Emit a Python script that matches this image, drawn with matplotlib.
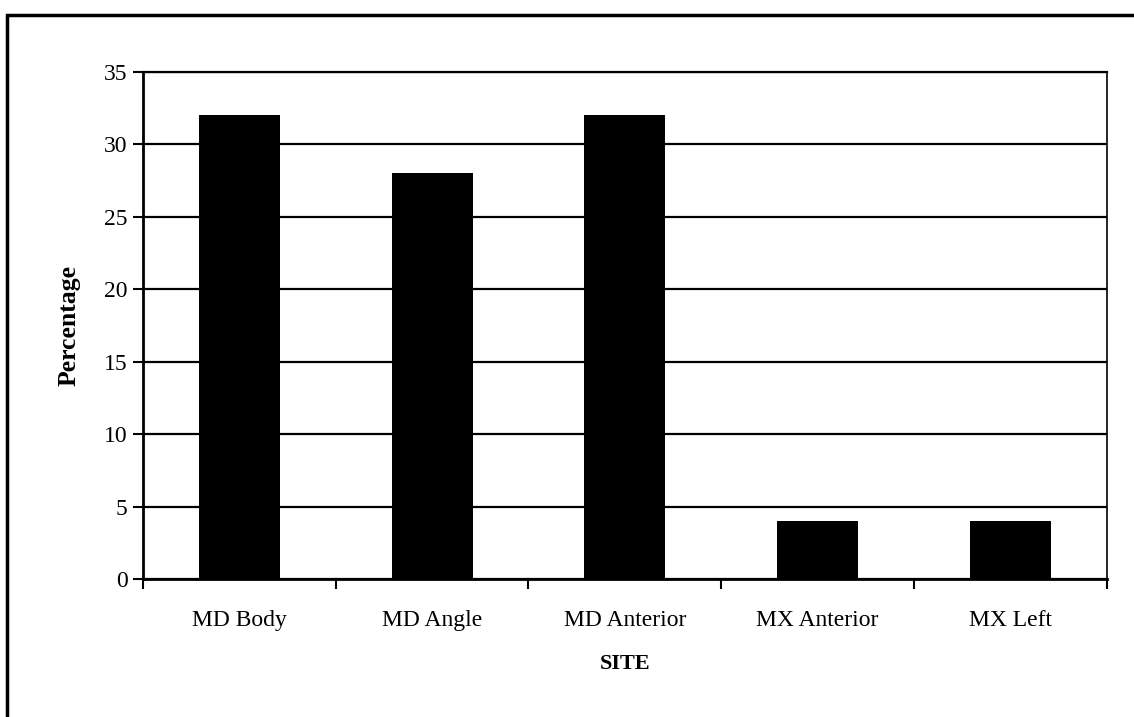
import matplotlib
matplotlib.use('Agg')
from matplotlib import pyplot
from matplotlib.patches import Rectangle

SITES = ['MD Body', 'MD Angle', 'MD Anterior', 'MX Anterior', 'MX Left']
PERCENTAGES = [32, 28, 32, 4, 4]
Y_TICKS = [0, 5, 10, 15, 20, 25, 30, 35]


def _plot_sites(sites, values):
    '''Bar chart of percentage by site.'''
    pyplot.rcParams['font.family'] = ['Liberation Serif', 'DejaVu Serif']

    fig = pyplot.figure(figsize=(11.34, 7.17), dpi=100)

    # Page frame around the chart.
    fig.patches.append(Rectangle((0.0065, -0.05), 1.1, 1.029,
                                 transform=fig.transFigure, fill=False,
                                 edgecolor='black', linewidth=2.5))

    ax = fig.add_axes([0.126, 0.1925, 0.85, 0.7071])
    xs = range(len(sites))
    ax.bar(xs, values, width=0.42, color='black', zorder=3)

    ax.set_xlim(-0.5, len(sites) - 0.5)
    ax.set_ylim(0, 35)
    ax.set_yticks(Y_TICKS)
    ax.set_yticklabels([str(t) for t in Y_TICKS], fontsize=17)
    ax.yaxis.grid(True, color='black', linewidth=1.6, zorder=1)
    ax.set_axisbelow(True)

    # Category labels centred, ticks on the boundaries.
    ax.set_xticks([x + 0.5 for x in range(-1, len(sites))])
    ax.set_xticklabels([])
    ax.set_xticks(list(xs), minor=True)
    ax.set_xticklabels(sites, minor=True, fontsize=17)
    ax.tick_params(axis='x', which='minor', length=0, pad=22)
    ax.tick_params(axis='x', which='major', direction='out', length=7,
                   width=1.5)
    ax.tick_params(axis='y', direction='out', length=7, width=1.5, pad=4)

    for side in ['left', 'bottom']:
        ax.spines[side].set_linewidth(2)
    ax.spines['right'].set_linewidth(1.2)
    ax.spines['top'].set_linewidth(1.6)

    ax.set_ylabel('Percentage', fontsize=18.5, fontweight='bold',
                  labelpad=17)
    ax.set_xlabel('SITE', fontsize=16, fontweight='bold', labelpad=17)

    fig.savefig('out.png', dpi=100)


def main():
    '''main method.'''
    _plot_sites(SITES, PERCENTAGES)


if __name__ == '__main__':
    main()
